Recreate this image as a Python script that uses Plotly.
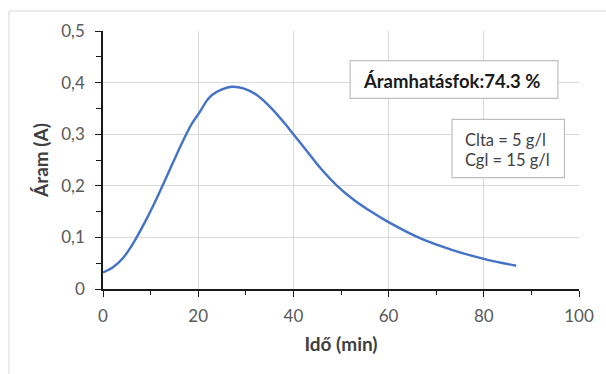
import plotly.graph_objects as go

# Measured current over time
time_min = [0, 2.1, 4.2, 6.3, 9.0, 11.1, 12.5, 14.6, 16.7, 18.7, 20.1, 21.9, 22.9,
            25.0, 27.1, 29.5, 32.3, 35.1, 37.9, 40.0, 43.1, 45.8, 49.3, 52.8,
            56.3, 59.7, 66.7, 73.6, 80.2, 86.8]
current_a = [0.032, 0.042, 0.060, 0.088, 0.133, 0.172, 0.200, 0.243, 0.285, 0.321,
             0.340, 0.366, 0.376, 0.387, 0.392, 0.389, 0.376, 0.353, 0.324, 0.300,
             0.264, 0.233, 0.199, 0.172, 0.150, 0.131, 0.098, 0.075, 0.058, 0.045]

y_ticks = [0, 0.1, 0.2, 0.3, 0.4, 0.5]
y_tick_text = ["0", "0,1", "0,2", "0,3", "0,4", "0,5"]
x_ticks = [0, 20, 40, 60, 80, 100]

efficiency_text = "Áramhatásfok:74.3 %"
conditions_lines = ["Clta = 5 g/l", "Cgl = 15 g/l"]

W, H = 606, 374
ML, MR, MT, MB = 103, 22, 31, 85
PW, PH = W - ML - MR, H - MT - MB


def px(x):
    return (x - ML) / PW


def py(y):
    return (H - MB - y) / PH


FONT = "Lato"
GRID = "#d9d9d9"
TEXT = "#595959"

fig = go.Figure()
fig.add_trace(go.Scatter(
    x=time_min, y=current_a, mode="lines",
    line=dict(color="#4472C4", width=2.4, shape="spline", smoothing=1.0),
    showlegend=False, hoverinfo="skip",
))

axis_common = dict(
    showgrid=True, gridcolor=GRID, gridwidth=1,
    showline=True, linecolor="#1a1a1a", linewidth=1.6,
    ticks="outside", ticklen=6, tickwidth=1.4, tickcolor="#1a1a1a",
    tickfont=dict(family=FONT, size=17, color=TEXT),
    zeroline=False, mirror=False,
)

fig.update_xaxes(
    range=[0, 100], tickvals=x_ticks, ticklabelstandoff=5,
    minor=dict(dtick=10, ticks="outside", ticklen=4, tickwidth=1.4,
               tickcolor="#1a1a1a", showgrid=False),
    title=dict(text="<b>Idő (min)</b>", font=dict(family=FONT, size=19, color="#404040"),
               standoff=12),
    **axis_common,
)
fig.update_yaxes(
    range=[0, 0.5], tickvals=y_ticks, ticktext=y_tick_text, ticklabelstandoff=7,
    minor=dict(dtick=0.05, ticks="outside", ticklen=5, tickwidth=1.4,
               tickcolor="#1a1a1a", showgrid=False),
    title=dict(text="<b>Áram (A)</b>", font=dict(family=FONT, size=19, color="#404040"),
               standoff=8),
    **axis_common,
)

# Outer chart frame
fig.add_shape(type="rect", xref="paper", yref="paper",
              x0=px(8), x1=px(W + 10), y0=py(11), y1=py(H + 10),
              line=dict(color=GRID, width=1), fillcolor="rgba(0,0,0,0)", layer="below")

# Text boxes
fig.add_shape(type="rect", xref="paper", yref="paper",
              x0=px(352.7), x1=px(562.7), y0=py(98.3), y1=py(60.7),
              line=dict(color="#bfbfbf", width=1.2), fillcolor="white")
fig.add_shape(type="rect", xref="paper", yref="paper",
              x0=px(455.7), x1=px(569.3), y0=py(177.7), y1=py(119.3),
              line=dict(color="#bfbfbf", width=1.2), fillcolor="white")

fig.add_annotation(xref="paper", yref="paper", x=px(364), y=py(80.5),
                   xanchor="left", yanchor="middle", showarrow=False,
                   text="<b>" + efficiency_text + "</b>",
                   font=dict(family=FONT, size=18.5, color="#1a1a1a"))
for i, line in enumerate(conditions_lines):
    fig.add_annotation(xref="paper", yref="paper", x=px(467), y=py(140 + 19.5 * i),
                       xanchor="left", yanchor="middle", showarrow=False,
                       text=line, font=dict(family=FONT, size=16.5, color="#404040"))

fig.update_layout(
    width=W, height=H,
    margin=dict(l=ML, r=MR, t=MT, b=MB, pad=0),
    paper_bgcolor="white", plot_bgcolor="white",
    font=dict(family=FONT),
)

fig.write_html("out.html")
